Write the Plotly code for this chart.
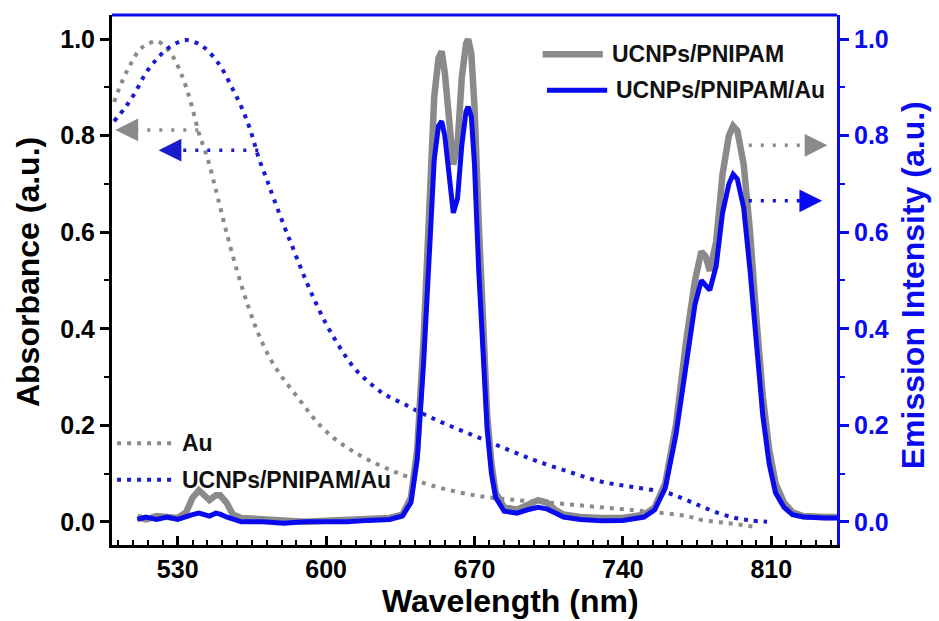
import plotly.graph_objects as go

# Emission spectra (right axis)
em_wl = [511, 515, 520, 525, 530, 534, 537, 540, 543, 545, 548, 550, 553, 556, 560, 570, 580,
         590, 600, 610, 620, 630, 636, 640, 643, 646, 649, 651, 653, 654.5, 656, 658, 660, 662,
         664, 666, 667, 668.5, 670, 672, 674, 676, 678, 680, 684, 690, 695, 700, 704, 708, 712,
         720, 730, 740, 750, 755, 760, 765, 770, 774, 777, 779, 781, 784, 787, 790, 792, 794,
         797, 800, 803, 806, 809, 812, 816, 820, 825, 830, 835, 841]
em_ucnp = [0.010, 0.005, 0.012, 0.010, 0.008, 0.020, 0.050, 0.065, 0.055, 0.045, 0.055, 0.055,
           0.040, 0.015, 0.008, 0.005, 0.000, 0.000, 0.002, 0.003, 0.005, 0.008, 0.015, 0.050,
           0.150, 0.380, 0.680, 0.880, 0.960, 0.975, 0.930, 0.820, 0.740, 0.780, 0.920, 0.990,
           1.000, 0.970, 0.860, 0.620, 0.400, 0.220, 0.120, 0.060, 0.030, 0.025, 0.035, 0.045,
           0.040, 0.025, 0.015, 0.010, 0.008, 0.008, 0.015, 0.030, 0.080, 0.200, 0.380, 0.500,
           0.560, 0.550, 0.520, 0.580, 0.720, 0.800, 0.820, 0.810, 0.740, 0.600, 0.420, 0.260,
           0.150, 0.080, 0.040, 0.020, 0.012, 0.010, 0.010, 0.010]
em_ucnp_au = [0.005, 0.010, 0.005, 0.010, 0.005, 0.012, 0.015, 0.018, 0.014, 0.012, 0.018, 0.016,
              0.010, 0.005, 0.000, 0.000, -0.003, 0.000, 0.000, 0.000, 0.003, 0.005, 0.012, 0.040,
              0.130, 0.330, 0.580, 0.750, 0.820, 0.830, 0.800, 0.710, 0.640, 0.670, 0.780, 0.850,
              0.860, 0.840, 0.740, 0.520, 0.330, 0.190, 0.100, 0.050, 0.022, 0.018, 0.025, 0.030,
              0.027, 0.018, 0.010, 0.005, 0.002, 0.003, 0.010, 0.025, 0.070, 0.180, 0.340, 0.450,
              0.500, 0.490, 0.480, 0.530, 0.640, 0.700, 0.720, 0.710, 0.650, 0.520, 0.360, 0.220,
              0.120, 0.060, 0.030, 0.015, 0.010, 0.008, 0.008, 0.008]

# Absorbance spectra (left axis)
abs_au_wl = [500, 504, 508, 512, 516, 520, 524, 528, 531, 534, 537, 540, 544, 547, 549, 553, 558,
             563, 568, 574, 580, 588, 595, 603.5, 612, 620, 630, 638.5, 650, 670, 690, 710, 730,
             750, 770, 777, 790, 802]
abs_au = [0.870, 0.915, 0.950, 0.978, 0.990, 0.996, 0.985, 0.962, 0.935, 0.900, 0.855, 0.805,
          0.754, 0.705, 0.670, 0.600, 0.520, 0.450, 0.390, 0.335, 0.295, 0.250, 0.210, 0.174,
          0.148, 0.128, 0.108, 0.093, 0.075, 0.055, 0.045, 0.038, 0.030, 0.022, 0.012, 0.004,
          -0.003, -0.010]
abs_mix_wl = [500, 505, 510, 515, 520, 525, 530, 534, 539, 543.5, 548, 551, 556, 560, 564, 568.5,
              572, 574, 580, 585, 590, 595, 600, 605, 610, 615, 620, 625, 630, 636, 641, 650,
              660, 670, 680, 690, 700, 715, 730, 745, 761, 770, 777, 785, 793, 800, 808]
abs_mix = [0.830, 0.857, 0.890, 0.930, 0.958, 0.980, 0.993, 0.998, 0.992, 0.979, 0.957, 0.938,
           0.896, 0.860, 0.815, 0.750, 0.710, 0.685, 0.615, 0.560, 0.505, 0.455, 0.410, 0.372,
           0.338, 0.310, 0.290, 0.272, 0.258, 0.246, 0.234, 0.215, 0.196, 0.178, 0.160, 0.142,
           0.125, 0.103, 0.083, 0.072, 0.060, 0.045, 0.032, 0.018, 0.008, 0.003, 0.000]

GRAY = "#8a8a8a"
BLUE = "#0a0af0"
DBLUE = "#1a1ad0"
FONT = "Liberation Sans, Arial, sans-serif"

fig = go.Figure()
fig.add_trace(go.Scatter(x=abs_au_wl, y=abs_au, mode="lines", name="Au",
                         line=dict(color=GRAY, width=4, dash="4px,6px", shape="spline")))
fig.add_trace(go.Scatter(x=abs_mix_wl, y=abs_mix, mode="lines", name="UCNPs/PNIPAM/Au",
                         line=dict(color=DBLUE, width=4, dash="4px,6px", shape="spline")))
fig.add_trace(go.Scatter(x=em_wl, y=em_ucnp, mode="lines", name="UCNPs/PNIPAM", yaxis="y2",
                         line=dict(color=GRAY, width=6.5)))
fig.add_trace(go.Scatter(x=em_wl, y=em_ucnp_au, mode="lines", name="UCNPs/PNIPAM/Au", yaxis="y2",
                         line=dict(color=BLUE, width=5)))

tick_font = dict(family=FONT, size=25, weight="bold")
title_font = dict(family=FONT, size=32, weight="bold")
yr = [-0.048, 1.05]

fig.update_layout(
    width=939, height=621,
    margin=dict(l=112, r=102, t=15, b=76),
    plot_bgcolor="white", paper_bgcolor="white",
    showlegend=False,
    xaxis=dict(range=[499, 841], tick0=530, dtick=70, showgrid=False, zeroline=False,
               showline=True, linecolor="black", linewidth=3,
               ticks="inside", ticklen=9, tickwidth=2.5, tickcolor="black",
               minor=dict(ticks="inside", ticklen=5, tickwidth=2, tickcolor="black", tick0=530, dtick=7),
               tickfont=dict(color="black", **tick_font)),
    yaxis=dict(range=yr, tick0=0, dtick=0.2, tickformat=".1f", showgrid=False, zeroline=False,
               showline=True, linecolor="black", linewidth=3,
               ticks="outside", ticklen=9, tickwidth=2.5, tickcolor="black",
               minor=dict(ticks="outside", ticklen=5, tickwidth=2, tickcolor="black", dtick=0.1),
               tickfont=dict(color="black", **tick_font)),
    yaxis2=dict(range=yr, overlaying="y", side="right", tick0=0, dtick=0.2, tickformat=".1f",
                showgrid=False, zeroline=False, showline=True, linecolor=BLUE, linewidth=3,
                ticks="outside", ticklen=9, tickwidth=2.5, tickcolor=BLUE,
                minor=dict(ticks="outside", ticklen=5, tickwidth=2, tickcolor=BLUE, dtick=0.1),
                tickfont=dict(color=BLUE, **tick_font)),
)

# axis titles placed in pixel offsets from the plot area
fig.add_annotation(xref="paper", yref="paper", x=0.55, y=0, yshift=-56, text="Wavelength (nm)",
                   showarrow=False, xanchor="center", yanchor="middle",
                   font=dict(color="black", **title_font))
fig.add_annotation(xref="paper", yref="paper", x=0, y=0.515, xshift=-84, text="Absorbance (a.u.)",
                   showarrow=False, textangle=-90, xanchor="center", yanchor="middle",
                   font=dict(color="black", **title_font))
fig.add_annotation(xref="paper", yref="paper", x=1, y=0.49, xshift=76,
                   text="Emission Intensity (a.u.)", showarrow=False, textangle=-90,
                   xanchor="center", yanchor="middle", font=dict(color=BLUE, **title_font))

# blue top border
fig.add_shape(type="line", xref="paper", yref="paper", x0=0, x1=1, y0=1, y1=1,
              line=dict(color=BLUE, width=3))

# legend keys drawn in paper space
legend_font = dict(family=FONT, size=23, weight="bold", color="#111111")
keys = [
    (0.594, 0.677, 0.926, GRAY, 6.5, "solid", "UCNPs/PNIPAM"),
    (0.600, 0.683, 0.858, BLUE, 5, "solid", "UCNPs/PNIPAM/Au"),
    (0.007, 0.084, 0.192, GRAY, 4, "4px,6px", "Au"),
    (0.007, 0.084, 0.123, DBLUE, 4, "4px,6px", "UCNPs/PNIPAM/Au"),
]
for x0, x1, yk, col, w, dash, label in keys:
    fig.add_shape(type="line", xref="paper", yref="paper", x0=x0, x1=x1, y0=yk, y1=yk,
                  line=dict(color=col, width=w, dash=dash))
    fig.add_annotation(xref="paper", yref="paper", x=x1 + 0.01, y=yk, text=label,
                       showarrow=False, xanchor="left", yanchor="middle", font=legend_font)

# dash-dot pointer arrows: (tail x, head x, y, axis, colour)
arrows = [
    (539.7, 500.6, 0.812, "y", GRAY),
    (568.0, 521.0, 0.770, "y", DBLUE),
    (799.4, 836.5, 0.780, "y2", GRAY),
    (799.4, 834.0, 0.665, "y2", BLUE),
]
for xt, xh, ya, yref, col in arrows:
    back = 8 if xh > xt else -8
    fig.add_shape(type="line", xref="x", yref=yref, x0=xt, x1=xh - back, y0=ya, y1=ya,
                  line=dict(color=col, width=3.5, dash="3px,9px"))
    fig.add_annotation(xref="x", yref=yref, x=xh, y=ya, ax=xh - back * 1.4, ay=ya,
                       axref="x", ayref=yref, text="", showarrow=True,
                       arrowhead=2, arrowsize=1.3, arrowwidth=3.5, arrowcolor=col)

fig.write_html("out.html")
